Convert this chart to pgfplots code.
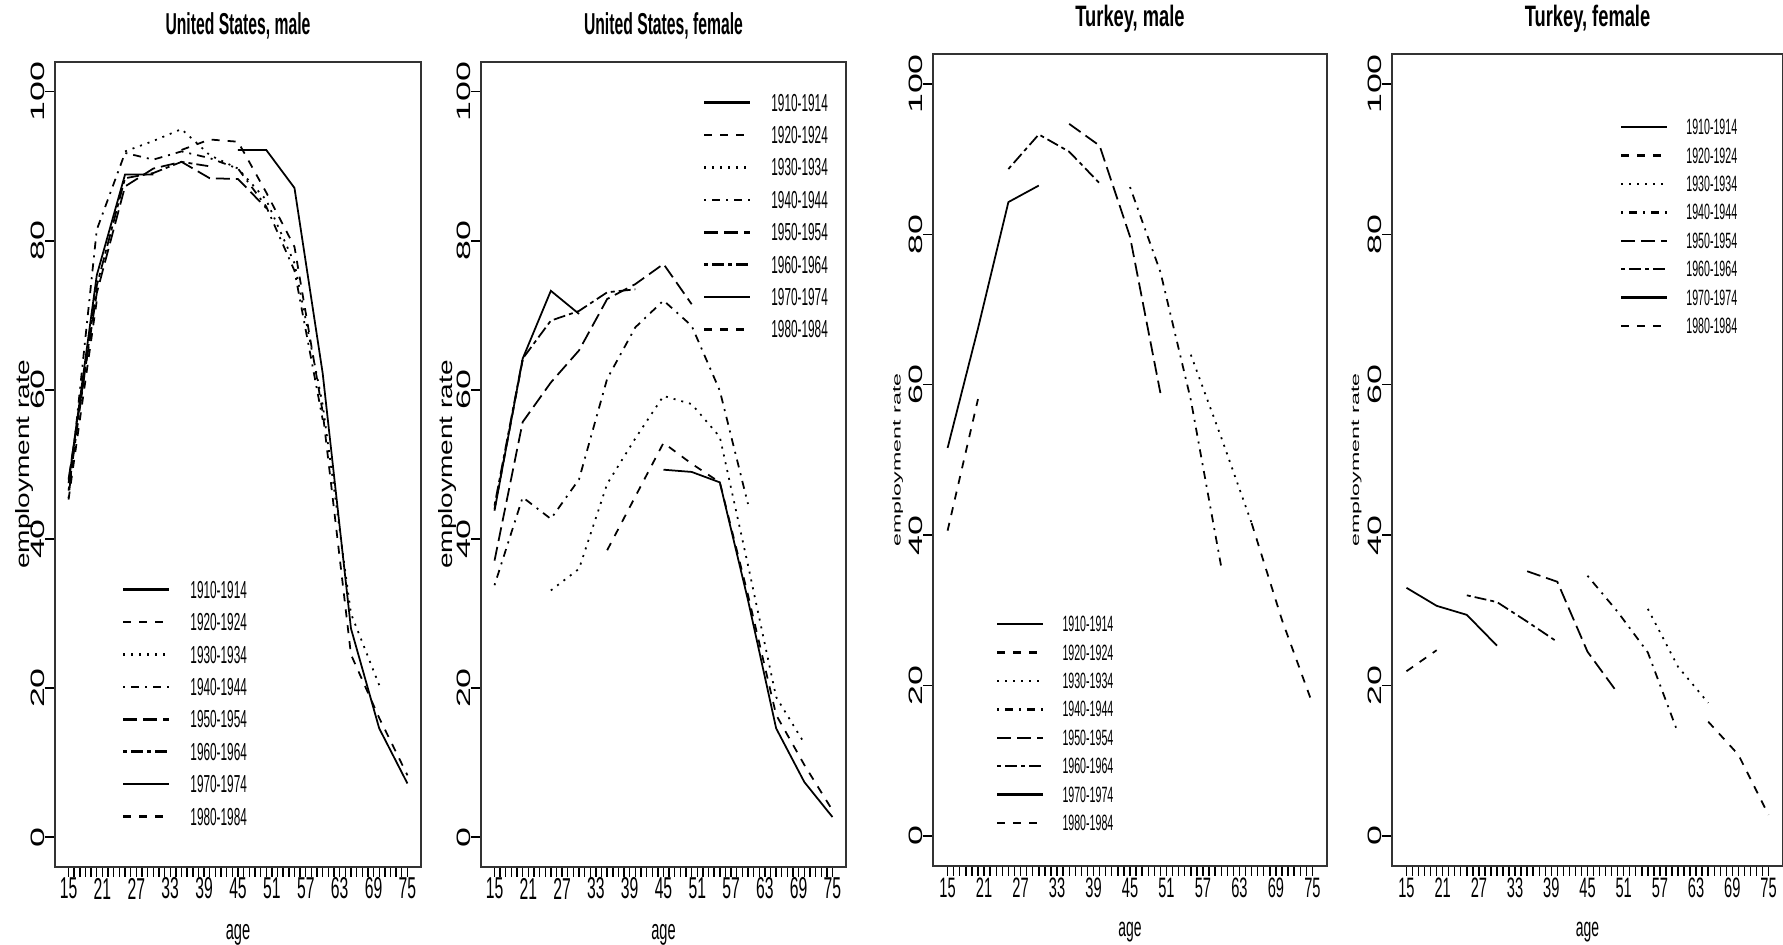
\documentclass[border=0pt]{standalone}
\usepackage{fontspec}
\setmainfont{Liberation Sans}
\newfontfamily\condfont{Liberation Sans}[FakeStretch=0.52]
\newfontfamily\titlefontT{Liberation Sans}[FakeStretch=0.62]
\newfontfamily\legfont{Liberation Sans}[FakeStretch=0.48]
\newfontfamily\widefont{Liberation Sans}[FakeStretch=1.85]
\newfontfamily\ylabfont{Liberation Sans}[FakeStretch=1.45]
\newfontfamily\ylabfontT{Liberation Sans}[FakeStretch=2.0]
\usepackage{pgfplots}
\pgfplotsset{compat=1.18}

% R line types 1..6, then 7=1, 8=2
\tikzset{
  lty1/.style={solid},
  lty2/.style={dash pattern=on 0.8mm off 0.8mm},
  lty3/.style={dash pattern=on 0.2mm off 0.6mm},
  lty4/.style={dash pattern=on 0.2mm off 0.6mm on 0.8mm off 0.6mm},
  lty5/.style={dash pattern=on 1.4mm off 0.6mm},
  lty6/.style={dash pattern=on 0.4mm off 0.4mm on 1.2mm off 0.4mm},
}

\pgfplotsset{
  panel/.style={
    anchor=south west, scale only axis, clip mode=individual,
    xmin=12.6, xmax=77.4, ymin=-4, ymax=104,
    xtick={15,21,...,75}, minor xtick={15,16,...,75}, ytick={0,20,...,100},
    tick pos=left, tick align=outside,
    major tick length=1mm, minor tick length=1mm,
    tick style={black, line width=0.4pt},
    axis line style={black!80, line width=0.5pt},
    /pgf/number format/assume math mode=true,
    yticklabel style={font=\fontsize{5.5}{6}\widefont, xshift=-0.75mm, rotate=90, anchor=center},
    xticklabel style={font=\fontsize{8.6}{9}\condfont, anchor=center, yshift=-1.15mm},
    legend cell align=left,
    legend image code/.code={\draw[##1, line width=0.7pt] (0mm,0mm) -- (4.6mm,0mm);},
    every axis plot/.append style={line width=0.5pt, black},
  },
  uslegend/.style={legend style={draw=none, fill=none, inner sep=0pt, outer sep=0pt,
    anchor=north west, column sep=2mm, row sep=1.54mm,
    font=\fontsize{7}{7}\legfont,
    nodes={inner sep=0pt, text height=1.7mm, text depth=0pt}}},
  trlegend/.style={legend style={draw=none, fill=none, inner sep=0pt, outer sep=0pt,
    anchor=north west, column sep=1.8mm, row sep=1.34mm,
    font=\fontsize{6.3}{6.3}\legfont,
    nodes={inner sep=0pt, text height=1.5mm, text depth=0pt}}},
}

\newcommand\cohortlegend{%
  \addlegendimage{lty1}\addlegendimage{lty2}\addlegendimage{lty3}\addlegendimage{lty4}%
  \addlegendimage{lty5}\addlegendimage{lty6}\addlegendimage{lty1}\addlegendimage{lty2}%
  \legend{1910-1914,1920-1924,1930-1934,1940-1944,1950-1954,1960-1964,1970-1974,1980-1984}}

\begin{document}
\begin{tikzpicture}
\useasboundingbox (0mm,0mm) rectangle (178.3mm,94.5mm);

% ---------------- United States, male
\begin{axis}[panel, uslegend, at={(5.5mm,7.8mm)}, width=36.6mm, height=80.5mm,
  legend style={at={(0.183,0.355)}}]
\addplot[lty1, forget plot] coordinates {(45,92.2) (50,92.2) (55,87.1) (60,62.2) (65,28) (70,14.6) (75,7.2)};
\addplot[lty2, forget plot] coordinates {(35,92.2) (40,93.6) (45,93.3) (50,86.5) (55,79.2) (60,57) (65,24.5) (70,16) (75,8.3)};
\addplot[lty3, forget plot] coordinates {(25,92) (30,93.4) (35,95) (40,91.5) (45,89.7) (50,85.5) (55,77) (60,58) (65,30) (70,20.4)};
\addplot[lty4, forget plot] coordinates {(15,45.5) (20,81.5) (25,91.8) (30,90.9) (35,92) (40,91.1) (45,89.7) (50,84.6) (55,76) (60,56)};
\addplot[lty5, forget plot] coordinates {(15,48) (20,73) (25,87.3) (30,89.7) (35,90.6) (40,88.4) (45,88.3) (50,84.4)};
\addplot[lty6, forget plot] coordinates {(15,46.5) (20,74) (25,88.4) (30,89.1) (35,90.6) (40,90)};
\addplot[lty1, forget plot] coordinates {(15,47.5) (20,75.4) (25,88.9) (30,88.9)};
\addplot[lty2, forget plot] coordinates {(15,45.3) (20,72)};
\cohortlegend
\node[font=\fontsize{8.6}{9}\condfont\bfseries, anchor=base, yshift=2.7mm] at (rel axis cs:0.5,1) {United States, male};
\node[font=\fontsize{5.5}{6}\ylabfont, xshift=-3.0mm, rotate=90] at (rel axis cs:0,0.5) {employment rate};
\node[font=\fontsize{8}{8}\condfont, anchor=base, yshift=-7.3mm] at (rel axis cs:0.5,0) {age};
\end{axis}

% ---------------- United States, female
\begin{axis}[panel, uslegend, at={(48.1mm,7.8mm)}, width=36.5mm, height=80.5mm,
  legend style={at={(0.608,0.960)}}]
\addplot[lty1, forget plot] coordinates {(45,49.3) (50,49.0) (55,47.6) (60,31.8) (65,14.6) (70,7.4) (75,2.7)};
\addplot[lty2, forget plot] coordinates {(35,38.5) (40,45.7) (45,52.9) (50,50.1) (55,47.6) (60,32.5) (65,16.4) (70,9.7) (75,3.6)};
\addplot[lty3, forget plot] coordinates {(25,33.1) (30,36.0) (35,47.4) (40,53.5) (45,59.2) (50,58.1) (55,53.7) (60,36.5) (65,18.8) (70,12.6)};
\addplot[lty4, forget plot] coordinates {(15,33.8) (20,45.6) (25,42.7) (30,48) (35,61.5) (40,68.4) (45,72.0) (50,68.6) (55,59.9) (60,44.7)};
\addplot[lty5, forget plot] coordinates {(15,37.1) (20,55.7) (25,61.0) (30,65.3) (35,72.2) (40,74.2) (45,76.9) (50,71.5)};
\addplot[lty6, forget plot] coordinates {(15,44.5) (20,64.2) (25,69.3) (30,70.6) (35,73.1) (40,73.5)};
\addplot[lty1, forget plot] coordinates {(15,43.8) (20,64.2) (25,73.3) (30,70.2)};
\addplot[lty2, forget plot] coordinates {(15,44) (20,64)};
\cohortlegend
\node[font=\fontsize{8.6}{9}\condfont\bfseries, anchor=base, yshift=2.7mm] at (rel axis cs:0.5,1) {United States, female};
\node[font=\fontsize{5.5}{6}\ylabfont, xshift=-3.4mm, rotate=90] at (rel axis cs:0,0.5) {employment rate};
\node[font=\fontsize{8}{8}\condfont, anchor=base, yshift=-7.3mm] at (rel axis cs:0.5,0) {age};
\end{axis}

% ---------------- Turkey, male
\begin{axis}[panel, trlegend, at={(93.3mm,7.9mm)}, width=39.4mm, height=81.2mm,
  xticklabel style={font=\fontsize{8}{8}\condfont},
  legend style={at={(0.160,0.307)}}]
\addplot[lty2, forget plot] coordinates {(65,41.6) (70,28.7) (75,17.6)};
\addplot[lty3, forget plot] coordinates {(55,64) (60,53) (65,41.6)};
\addplot[lty4, forget plot] coordinates {(45,86.3) (50,75) (55,58) (60,35.8)};
\addplot[lty5, forget plot] coordinates {(35,94.7) (40,91.8) (45,79.7) (50,58.9)};
\addplot[lty6, forget plot] coordinates {(25,88.7) (30,93.3) (35,91) (40,86.8)};
\addplot[lty1, forget plot] coordinates {(15,51.6) (20,67.5) (25,84.3) (30,86.5)};
\addplot[lty2, forget plot] coordinates {(15,40.6) (20,58.1)};
\cohortlegend
\node[font=\fontsize{8.4}{9}\titlefontT\bfseries, anchor=base, yshift=2.7mm] at (rel axis cs:0.5,1) {Turkey, male};
\node[font=\fontsize{3.3}{4}\ylabfontT, xshift=-3.55mm, rotate=90] at (rel axis cs:0,0.5) {employment rate};
\node[font=\fontsize{7.6}{8}\condfont, anchor=base, yshift=-7.1mm] at (rel axis cs:0.5,0) {age};
\end{axis}

% ---------------- Turkey, female
\begin{axis}[panel, trlegend, at={(139.2mm,7.9mm)}, width=39.1mm, height=81.2mm,
  xticklabel style={font=\fontsize{8}{8}\condfont},
  legend style={at={(0.583,0.919)}}]
\addplot[lty2, forget plot] coordinates {(65,15.2) (70,10.8) (75,2.8)};
\addplot[lty3, forget plot] coordinates {(55,30.2) (60,22.5) (65,17.7)};
\addplot[lty4, forget plot] coordinates {(45,34.6) (50,29.8) (55,24.4) (60,13.7)};
\addplot[lty5, forget plot] coordinates {(35,35.2) (40,33.8) (45,24.5) (50,19.0)};
\addplot[lty6, forget plot] coordinates {(25,32.0) (30,31.1) (35,28.5) (40,25.8)};
\addplot[lty1, forget plot] coordinates {(15,33.0) (20,30.6) (25,29.4) (30,25.3)};
\addplot[lty2, forget plot] coordinates {(15,21.9) (20,24.7)};
\cohortlegend
\node[font=\fontsize{8.4}{9}\titlefontT\bfseries, anchor=base, yshift=2.7mm] at (rel axis cs:0.5,1) {Turkey, female};
\node[font=\fontsize{3.3}{4}\ylabfontT, xshift=-3.6mm, rotate=90] at (rel axis cs:0,0.5) {employment rate};
\node[font=\fontsize{7.6}{8}\condfont, anchor=base, yshift=-7.1mm] at (rel axis cs:0.5,0) {age};
\end{axis}
\end{tikzpicture}
\end{document}
